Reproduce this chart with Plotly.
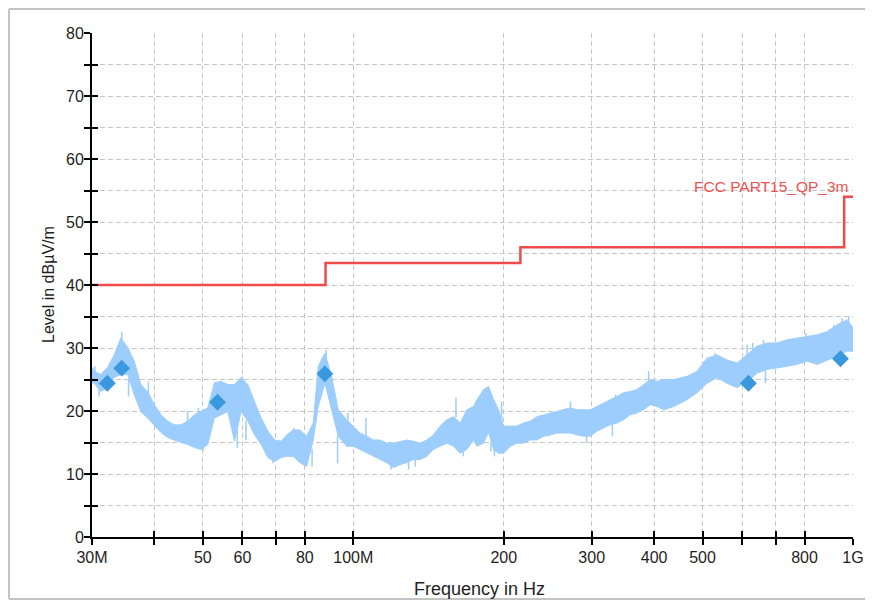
import plotly.graph_objects as go
import numpy as np

# ---- data ----
scan_freq_mhz = [30.0, 30.31, 31.24, 32.22, 33.23, 34.27, 35.34, 36.45, 37.58, 38.76, 39.98,
                 41.22, 42.51, 43.85, 45.20, 46.62, 48.09, 49.58, 51.14, 52.74, 54.38, 56.08,
                 57.85, 59.63, 61.51, 63.44, 65.40, 67.46, 69.58, 71.73, 73.54, 75.81, 78.19,
                 80.65, 83.14, 85.08, 87.75, 90.51, 93.31, 97.00, 100.0, 103.1, 106.4, 109.7,
                 113.1, 116.7, 120.3, 124.1, 128.0, 131.9, 136.1, 140.3, 144.7, 149.2, 153.9,
                 158.7, 163.7, 168.8, 174.0, 176.8, 182.2, 186.5, 190.9, 195.3, 199.9, 206.1,
                 212.6, 219.2, 226.1, 233.2, 240.4, 248.0, 255.7, 263.6, 271.9, 280.5, 289.1,
                 297.9, 307.3, 316.8, 326.7, 337.0, 347.4, 358.4, 369.6, 381.0, 393.0, 405.4,
                 417.9, 437.6, 465.5, 487.4, 510.4, 534.5, 559.8, 586.2, 613.9, 642.8, 673.2,
                 704.9, 738.2, 773.1, 809.6, 847.8, 887.8, 929.7, 973.6, 1000.0]
scan_upper_db = [27.0, 26.3, 25.8, 26.9, 28.9, 31.6, 30.1, 27.9, 24.2, 23.1, 21.0,
                 19.4, 18.4, 17.8, 17.8, 18.4, 19.4, 19.9, 20.5, 24.5, 24.7, 24.2,
                 24.2, 25.3, 24.2, 21.5, 18.9, 16.8, 15.4, 15.2, 16.2, 17.0, 17.0,
                 16.0, 18.1, 27.1, 29.2, 25.5, 20.2, 18.6, 17.6, 16.5, 16.0, 15.4,
                 15.4, 14.9, 14.9, 15.2, 15.4, 15.2, 14.9, 15.4, 16.2, 17.6, 18.6,
                 19.1, 18.1, 20.2, 20.7, 21.8, 23.4, 23.9, 21.8, 20.2, 17.6, 17.6,
                 17.6, 18.1, 18.4, 19.1, 19.4, 19.7, 19.9, 20.2, 20.5, 20.2, 20.2,
                 20.2, 20.7, 21.3, 21.8, 22.3, 22.9, 23.1, 23.4, 24.2, 25.0, 24.7,
                 25.0, 25.0, 25.5, 26.3, 28.4, 28.9, 28.1, 27.6, 28.9, 30.3, 30.8,
                 30.8, 31.3, 31.6, 31.8, 32.1, 32.6, 33.7, 34.5, 33.2]
scan_lower_db = [24.5, 24.4, 23.1, 23.7, 25.3, 25.8, 25.8, 22.6, 19.9, 18.9, 17.8,
                 16.6, 15.8, 15.4, 15.0, 14.7, 14.2, 13.9, 14.7, 18.9, 19.4, 19.9,
                 15.2, 19.9, 18.4, 16.2, 14.7, 12.6, 12.0, 12.6, 12.8, 12.8, 11.8,
                 11.2, 15.4, 20.7, 24.4, 20.2, 16.0, 14.4, 14.4, 13.9, 13.3, 12.8,
                 12.3, 11.8, 11.0, 11.5, 11.8, 12.3, 12.3, 12.8, 13.9, 14.4, 14.9,
                 14.4, 13.3, 13.9, 15.4, 14.4, 14.9, 16.6, 13.9, 13.3, 13.3, 14.4,
                 14.9, 14.9, 15.4, 15.4, 16.0, 16.2, 16.5, 16.5, 16.5, 16.2, 16.0,
                 16.0, 16.8, 17.3, 17.8, 18.1, 18.6, 19.4, 19.7, 20.2, 21.0, 20.7,
                 20.2, 20.7, 21.8, 22.9, 24.4, 25.3, 24.4, 23.7, 24.7, 26.0, 26.6,
                 26.8, 27.1, 27.4, 27.9, 27.4, 28.1, 28.7, 29.5, 29.5]

# isolated spikes of the scan (frequency, band edge level, spike tip level)
spike_freq_mhz = [30.4, 34.4, 38.9, 46.6, 49.0, 60.0, 76.0, 88.3, 97.5, 106.0, 160.5,
                  198.0, 272.0, 335.0, 390.0, 530.0, 614.0, 630.0, 662.0, 805.0, 915.0,
                  950.0, 980.0,
                  31.0, 35.5, 50.0, 58.6, 61.0, 69.0, 82.7, 93.0, 119.0, 129.0, 133.0,
                  166.0, 188.5, 191.6, 293.0, 330.0, 668.0]
spike_from_db = [26.3, 30.0, 22.5, 18.0, 19.5, 24.5, 16.5, 28.0, 18.5, 16.0, 19.0,
                 18.0, 20.2, 22.0, 24.5, 28.5, 28.9, 29.5, 30.5, 31.5, 33.0,
                 34.0, 34.0,
                 23.5, 25.0, 14.5, 19.0, 18.5, 12.3, 14.0, 16.0, 11.3, 11.9, 12.3,
                 13.5, 15.0, 14.0, 16.0, 17.9, 26.6]
spike_to_db = [27.1, 32.6, 24.7, 20.0, 20.5, 25.5, 17.3, 29.7, 19.7, 18.9, 22.1,
               21.5, 21.5, 22.6, 26.3, 29.2, 30.5, 30.8, 31.3, 32.4, 33.7,
               34.8, 35.0,
               22.3, 22.3, 13.6, 14.1, 15.4, 11.7, 11.2, 11.7, 10.7, 10.7, 11.2,
               12.8, 13.6, 12.8, 14.9, 16.0, 24.4]

limit_freq_mhz = [30, 88, 216, 960, 1000]
limit_level_db = [40, 43.5, 46, 54, 54]
limit_name = "FCC PART15_QP_3m"

peak_freq_mhz = [32.2, 34.4, 53.5, 87.7, 617.7, 944.0]
peak_level_db = [24.4, 26.8, 21.4, 25.9, 24.4, 28.3]

x_tickvals = [30, 40, 50, 60, 70, 80, 100, 200, 300, 400, 500, 600, 700, 800, 1000]
x_ticktext = ["30M", "", "50", "60", "", "80", "100M", "200", "300", "400", "500", "", "", "800", "1G"]
y_tickvals = list(range(0, 81, 5))
y_ticktext = [str(v) if v % 10 == 0 else "" for v in y_tickvals]

# ---- figure ----
FONT = "Liberation Sans"
TXT = "#1e1e1e"
band_color = "#9dcdfc"
W, H = 865, 593
ML, MR, MT, MB = 84, 20, 25, 64
PW, PH = W - ML - MR, H - MT - MB

fig = go.Figure()

fig.add_trace(go.Scatter(
    x=scan_freq_mhz + scan_freq_mhz[::-1],
    y=scan_upper_db + scan_lower_db[::-1],
    fill="toself", fillcolor=band_color,
    line=dict(color=band_color, width=1), mode="lines", showlegend=False))

sx, sy = [], []
for f, a, b in zip(spike_freq_mhz, spike_from_db, spike_to_db):
    sx += [f, f, None]
    sy += [a, b, None]
fig.add_trace(go.Scatter(x=sx, y=sy, mode="lines",
                         line=dict(color=band_color, width=1.5), showlegend=False))

fig.add_trace(go.Scatter(x=limit_freq_mhz, y=limit_level_db, mode="lines",
                         line=dict(color="#f24a4a", width=2.5, shape="hv"), showlegend=False))

fig.add_trace(go.Scatter(x=peak_freq_mhz, y=peak_level_db, mode="markers",
                         marker=dict(symbol="diamond", size=13, color="#3a98de",
                                     line=dict(width=0)), showlegend=False))

# invisible trace carrying overlay axes (inner halves of the crossing ticks)
fig.add_trace(go.Scatter(x=[100], y=[10], xaxis="x2", yaxis="y2", mode="markers",
                         marker=dict(opacity=0), showlegend=False, hoverinfo="skip"))

xr = [np.log10(30), np.log10(1000)]
grid = dict(showgrid=True, gridcolor="#c6c6c6", gridwidth=1, griddash="5px,3px")
tickstyle = dict(ticklen=6, tickwidth=1.5, tickcolor="black")
fig.update_layout(
    width=W, height=H, autosize=False,
    margin=dict(l=ML, r=MR, t=MT, b=MB, autoexpand=False),
    paper_bgcolor="white", plot_bgcolor="white",
    font=dict(family=FONT, size=16, color=TXT),
    xaxis=dict(type="log", range=xr, tickvals=x_tickvals, ticktext=x_ticktext,
               ticks="outside", **tickstyle, automargin=False,
               showline=True, linecolor="black", linewidth=2, zeroline=False,
               ticklabelstandoff=-1, tickfont=dict(size=16, color=TXT), **grid),
    yaxis=dict(range=[0, 80], tickvals=y_tickvals, ticktext=y_ticktext,
               ticks="outside", **tickstyle, automargin=False,
               showline=True, linecolor="black", linewidth=2, zeroline=False,
               ticklabelstandoff=-3, tickfont=dict(size=16, color=TXT), **grid),
    xaxis2=dict(type="log", range=xr, overlaying="x", tickvals=x_tickvals,
                ticks="inside", **tickstyle, automargin=False,
                showticklabels=False, showgrid=False, showline=False, zeroline=False),
    yaxis2=dict(range=[0, 80], overlaying="y", tickvals=y_tickvals,
                ticks="inside", **tickstyle, automargin=False,
                showticklabels=False, showgrid=False, showline=False, zeroline=False),
)

fig.add_annotation(text="Frequency in Hz", xref="paper", yref="paper",
                   x=(471.5 - ML) / PW, y=-51.5 / PH,
                   xanchor="center", yanchor="middle", showarrow=False,
                   font=dict(size=18, color=TXT, family=FONT))
fig.add_annotation(text="Level in dBµV/m", xref="paper", yref="paper", x=-44 / PW, y=0.5,
                   xanchor="center", yanchor="middle", textangle=-90, showarrow=False,
                   font=dict(size=16, color=TXT, family=FONT))
fig.add_annotation(text=limit_name, xref="x", yref="y", x=np.log10(1000), y=55.6,
                   xanchor="right", yanchor="middle", xshift=-3, showarrow=False,
                   font=dict(size=15.5, color="#f05050", family=FONT))

# outer frame of the picture: left, top and bottom edges (right edge lies outside the view)
def px_x(v):
    return (v - ML) / PW

def px_y(v):
    return (MT + PH - v) / PH

frame = dict(type="line", xref="paper", yref="paper", layer="below",
             line=dict(color="#c3c3c3", width=2))
fig.add_shape(x0=px_x(1), x1=px_x(1), y0=px_y(1), y1=px_y(591), **frame)
fig.add_shape(x0=px_x(1), x1=px_x(W), y0=px_y(1), y1=px_y(1), **frame)
fig.add_shape(x0=px_x(1), x1=px_x(W), y0=px_y(591), y1=px_y(591), **frame)

fig.write_html("out.html")
